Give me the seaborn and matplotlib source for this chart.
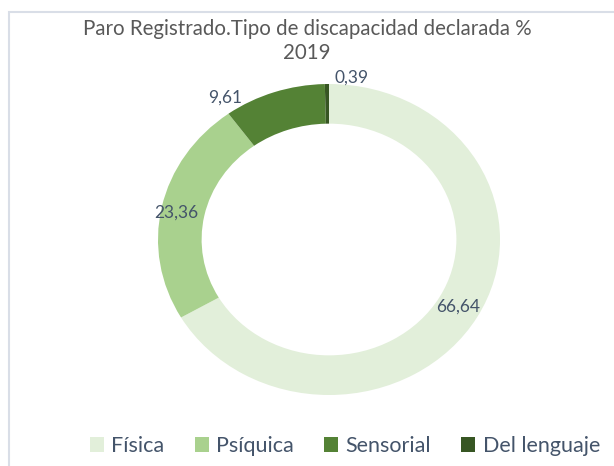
import numpy as np
import seaborn as sns
import matplotlib.pyplot as plt
import matplotlib.patches as patches

# datos
categorias = ['Física', 'Psíquica', 'Sensorial', 'Del lenguaje']
porcentajes = [66.64, 23.36, 9.61, 0.39]
colores = ['#E2EFDA', '#A9D18E', '#548235', '#375623']

sns.set_theme(style='white')
plt.rcParams['font.family'] = ['Lato', 'DejaVu Sans']

fig = plt.figure(figsize=(6.14, 4.66), dpi=100)
ax = fig.add_axes([158 / 614, 71 / 466, 342 / 614, 311 / 466])

wedges, _ = ax.pie(porcentajes, colors=colores, startangle=90, counterclock=False,
                   radius=1, wedgeprops=dict(width=0.255, edgecolor='none'))
ax.set_aspect('auto')
ax.set_xlim(-1, 1)
ax.set_ylim(-1, 1)

# etiquetas de datos (radio y desplazamiento angular a ojo)
radios = [0.87, 0.91, 1.10, 1.05]
desplaz = [0, 1, 15, -8]
for w, v, r, d in zip(wedges, porcentajes, radios, desplaz):
    ang = np.deg2rad((w.theta1 + w.theta2) / 2 + d)
    ax.text(r * np.cos(ang), r * np.sin(ang), f'{v:.2f}'.replace('.', ','),
            ha='center', va='center', fontsize=12.5, color='#44546A')

fig.text(0.5, 1 - 29 / 466, 'Paro Registrado.Tipo de discapacidad declarada %',
         ha='center', va='center', fontsize=14.8, color='#595959')
fig.text(0.5, 1 - 53 / 466, '2019', ha='center', va='center', fontsize=14.8, color='#595959')

fig.legend(wedges, categorias, loc='center', bbox_to_anchor=(345 / 614, 1 - 446 / 466),
           ncol=4, frameon=False, fontsize=15.5, handlelength=0.65, handleheight=0.65,
           handletextpad=0.35, columnspacing=1.4, labelcolor='#44546A')

# marco
fig.add_artist(patches.Rectangle((9 / 614, -0.1), 2, 1 - 12 / 466 + 0.1, fill=False,
                                 edgecolor='#D9DEE7', lw=1.5, transform=fig.transFigure))

fig.savefig('out.png', dpi=100)
